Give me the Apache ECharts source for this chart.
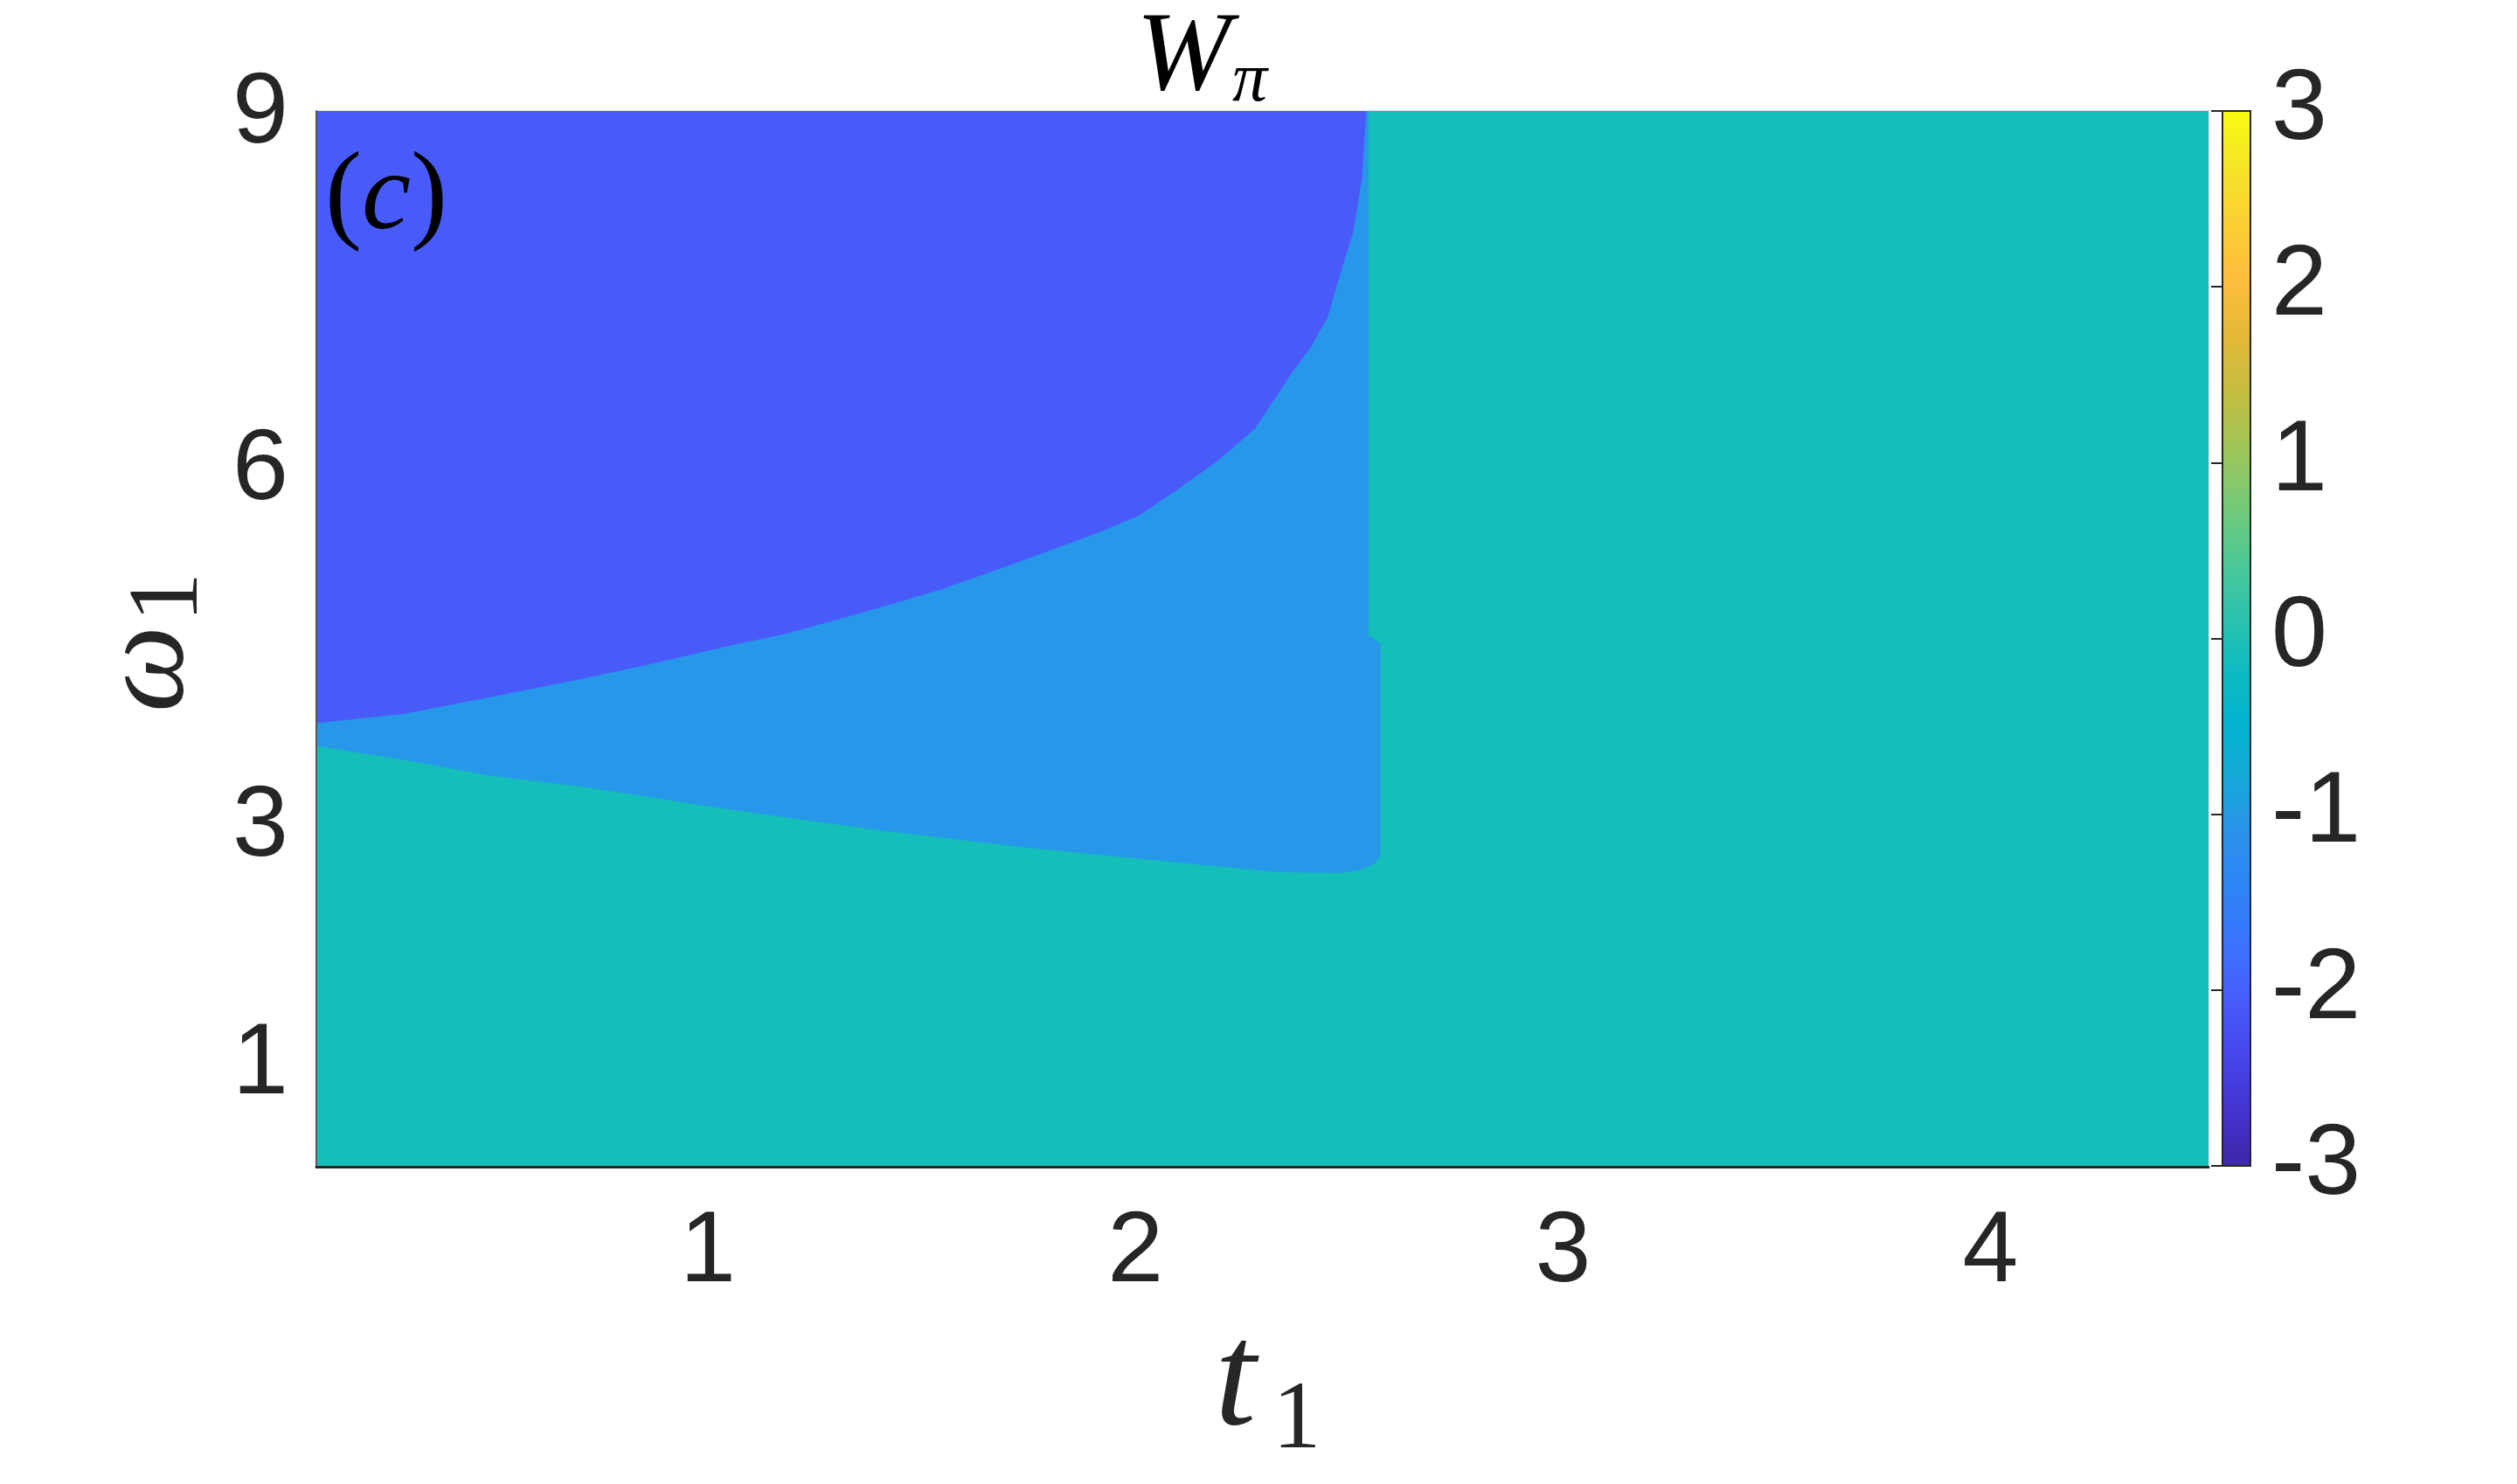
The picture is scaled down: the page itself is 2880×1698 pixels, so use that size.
<!DOCTYPE html>
<html>
<head>
<meta charset="utf-8">
<script src="https://cdn.jsdelivr.net/npm/echarts@6.0.0/dist/echarts.min.js"></script>
<style>
	html, body { margin: 0; padding: 0; background: #fff; }
	#main { width: 2880px; height: 1698px; }
</style>
</head>
<body>
<div id="main"></div>
<script>
// 坐标范围
var tRange = [0.084, 4.51]
var wRange = [0.15, 9.03]
var xTicks = [1, 2, 3, 4]
var yTicks = [1, 3, 6, 9]
var cbRange = [-3, 3]

// W = -2 / W = -1 的分界线 (上边界)
var upperT = [0.084, 0.29, 0.49, 0.70, 0.87, 1.06, 1.18, 1.37, 1.55, 1.73, 1.91, 2.01, 2.10, 2.19, 2.28, 2.33, 2.37, 2.41, 2.45, 2.48, 2.51, 2.53, 2.54]
var upperW = [3.88, 3.96, 4.10, 4.25, 4.38, 4.54, 4.63, 4.82, 5.01, 5.24, 5.48, 5.63, 5.85, 6.08, 6.36, 6.63, 6.85, 7.04, 7.30, 7.67, 8.02, 8.47, 9.03]
// W = -1 / W = 0 的分界线 (下边界)
var lowerT = [0.084, 0.29, 0.49, 0.70, 1.06, 1.40, 1.73, 2.07, 2.33, 2.48, 2.53, 2.56, 2.573]
var lowerW = [3.69, 3.57, 3.44, 3.35, 3.15, 2.98, 2.84, 2.72, 2.63, 2.62, 2.65, 2.70, 2.76]
// 右侧竖直分界
var edgeT = [2.573, 2.573, 2.545, 2.545]
var edgeW = [2.76, 4.55, 4.62, 9.03]

// parula colormap
var parula = ['#3E26A8', '#4433CE', '#4747EB', '#475BFB', '#3B74FD', '#2D84F5', '#2A92EB', '#15A9D8', '#03B4CE', '#10BBBF',
	'#2FC3AB', '#51C992', '#7BCA74', '#A2C455', '#C6BD3E', '#E7B938', '#FDBE3D', '#FAD032', '#F5E527', '#F9FB0E']

function pts (ts, ws) {
	return ts.map(function (t, i) { return [t, ws[i]] })
}

var regions = [
	{level: 0, points: [[tRange[0], wRange[0]], [tRange[1], wRange[0]], [tRange[1], wRange[1]], [tRange[0], wRange[1]]]},
	{level: -1, points: pts(lowerT, lowerW).concat(pts(edgeT, edgeW), [[tRange[0], wRange[1]]])},
	{level: -2, points: pts(upperT, upperW).concat([[tRange[0], wRange[1]]])}
]
var levelColor = {'0': '#14BEB9', '-1': '#2797E9', '-2': '#485BF9'}

var myChart = echarts.init(document.getElementById('main'))
var labelStyle = {
	color: '#262626',
	fontSize: 115,
	fontFamily: 'Liberation Sans'
}
var serif = '"Liberation Serif"'

let option = {
	backgroundColor: '#fff',
	animation: false,
	grid: [
		{left: 362, top: 127, width: 2165, height: 1208, show: true, borderColor: '#e3e3e3', borderWidth: 2, outerBoundsMode: 'none'},
		{left: 2543, top: 127, width: 32, height: 1207, outerBoundsMode: 'none'}
	],
	xAxis: [
		{
			type: 'value', gridIndex: 0, min: tRange[0], max: tRange[1], z: 5,
			axisLine: {show: true, onZero: false, lineStyle: {color: '#262626', width: 3}},
			axisTick: {show: false},
			splitLine: {show: false},
			axisLabel: Object.assign({customValues: xTicks, margin: 42}, labelStyle)
		},
		{type: 'value', gridIndex: 1, min: 0, max: 1, show: false}
	],
	yAxis: [
		{
			type: 'value', gridIndex: 0, min: wRange[0], max: wRange[1], z: 5,
			axisLine: {show: true, onZero: false, lineStyle: {color: '#555', width: 2}},
			axisTick: {show: false},
			splitLine: {show: false},
			axisLabel: Object.assign({customValues: yTicks, margin: 32}, labelStyle)
		},
		{
			type: 'value', gridIndex: 1, position: 'right', min: cbRange[0], max: cbRange[1], interval: 1, z: 5,
			axisLine: {show: false},
			axisTick: {show: true, inside: true, length: 13, lineStyle: {color: '#262626', width: 2}},
			splitLine: {show: false},
			axisLabel: Object.assign({margin: 24, align: 'left'}, labelStyle)
		}
	],
	series: [
		{
			// 相图区域
			type: 'custom',
			xAxisIndex: 0,
			yAxisIndex: 0,
			data: regions.map(function (r) { return [tRange[0], wRange[0], r.level] }),
			encode: {x: 0, y: 1},
			renderItem: function (params, api) {
				var r = regions[params.dataIndex]
				return {
					type: 'polygon',
					shape: {points: r.points.map(function (p) { return api.coord(p) })},
					style: {fill: levelColor[String(r.level)]}
				}
			}
		},
		{
			// colorbar
			type: 'custom',
			xAxisIndex: 1,
			yAxisIndex: 1,
			data: [[0, cbRange[0], 1, cbRange[1]]],
			encode: {x: [0, 2], y: [1, 3]},
			renderItem: function (params, api) {
				var p0 = api.coord([api.value(0), api.value(1)])
				var p1 = api.coord([api.value(2), api.value(3)])
				var stops = parula.map(function (c, i) { return {offset: i / (parula.length - 1), color: c} })
				return {
					type: 'rect',
					shape: {x: p0[0], y: p1[1], width: p1[0] - p0[0], height: p0[1] - p1[1]},
					style: {fill: new echarts.graphic.LinearGradient(0, 1, 0, 0, stops), stroke: '#262626', lineWidth: 2}
				}
			}
		}
	],
	graphic: [
		{type: 'text', x: 1300, y: 68, z: 100, style: {text: 'W', font: 'italic 130px ' + serif, fill: '#000', align: 'left', verticalAlign: 'middle'}},
		{type: 'text', x: 1410, y: 94, z: 100, style: {text: 'π', font: 'italic 80px ' + serif, fill: '#000', align: 'left', verticalAlign: 'middle'}},
		{type: 'text', x: 372, y: 228, z: 100, style: {
			text: '{n|(}{i|c}{n|)}', align: 'left', verticalAlign: 'middle', fill: '#000',
			rich: {
				n: {fontSize: 126, fontFamily: serif, color: '#000'},
				i: {fontSize: 126, fontFamily: serif, fontStyle: 'italic', color: '#000'}
			}
		}},
		{type: 'text', x: 1390, y: 1584, z: 100, style: {text: 't', font: 'italic 170px ' + serif, fill: '#262626', align: 'left', verticalAlign: 'middle'}},
		{type: 'text', x: 1456, y: 1627, z: 100, style: {text: '1', font: '111px ' + serif, fill: '#262626', align: 'left', verticalAlign: 'middle'}},
		{type: 'text', x: 172, y: 815, rotation: Math.PI / 2, z: 100, style: {text: 'ω', font: 'italic 140px ' + serif, fill: '#262626', align: 'left', verticalAlign: 'middle'}},
		{type: 'text', x: 195, y: 712, rotation: Math.PI / 2, z: 100, style: {text: '1', font: '114px ' + serif, fill: '#262626', align: 'left', verticalAlign: 'middle'}}
	]
}
myChart.setOption(option)
</script>
</body>
</html>
